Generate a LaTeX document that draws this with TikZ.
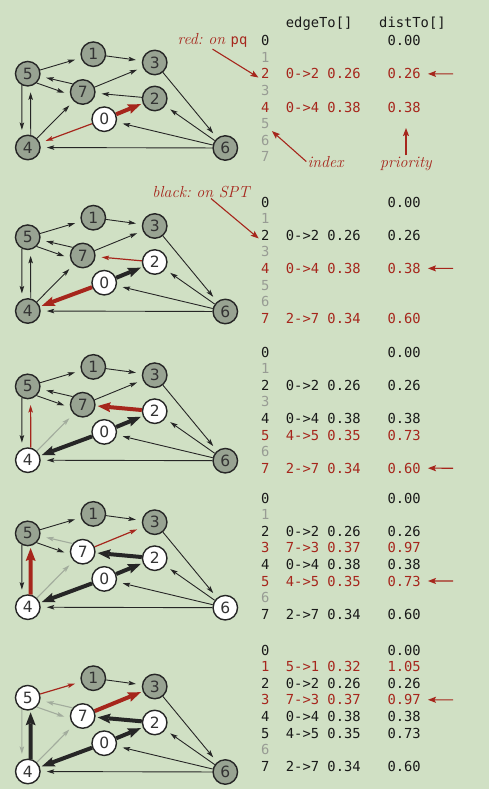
\documentclass[tikz,border=0pt]{standalone}
\usepackage{fontspec}
\setsansfont{DejaVu Sans}
\setmonofont{DejaVu Sans Mono}
\usetikzlibrary{arrows.meta}
\definecolor{paper}{RGB}{208,224,196}
\definecolor{vgray}{RGB}{152,163,146}
\definecolor{sptred}{RGB}{166,38,28}
\definecolor{fadegray}{RGB}{162,172,157}
\definecolor{idxgray}{RGB}{152,156,148}
\tikzset{
  vtx/.style={circle,draw=black!85,line width=1.4pt,minimum size=24.5pt,inner sep=0pt,
    text=black!80,font=\sffamily\fontsize{15.5}{16}\selectfont},
  gv/.style={vtx,fill=vgray},
  wv/.style={vtx,fill=white},
  ed/.style={line width=.9pt,black!85,shorten >=6pt,-{Stealth[length=7.5pt,width=4.5pt,inset=1.5pt]}},
  edg/.style={ed,fadegray,line width=1.1pt},
  edr/.style={ed,sptred,line width=1.2pt},
  edk/.style={line width=4pt,black!85,shorten >=2pt,-{Stealth[length=13pt,width=10pt,inset=2pt,line width=0pt]}},
  edkr/.style={edk,sptred},
  cell/.style={anchor=base west,inner sep=0pt,font=\ttfamily\fontsize{13.8}{14}\selectfont},
  tk/.style={text=black!90},
  tr/.style={text=sptred},
  tg/.style={text=idxgray},
  note/.style={anchor=base,inner sep=1pt,text=sptred,font=\itshape\fontsize{16}{16}\selectfont\frenchspacing},
  ann/.style={sptred,line width=1.1pt,-{Stealth[length=8pt,width=6pt,inset=1.5pt]}}
}
\begin{document}
\begin{tikzpicture}[x=1pt,y=-1pt]
\useasboundingbox (0,0) rectangle (489,789);
\fill[paper] (0,0) rectangle (489,789);
% first step: 0 relaxed
\begin{scope}
  \foreach \n/\x/\y/\s in {0/104.2/119.2/wv,1/93.3/54.2/gv,2/154.7/98.5/gv,3/154.7/62.5/gv,
      4/27.8/147.5/gv,5/27.7/73.7/gv,6/225.3/148/gv,7/82.7/92/gv}
    \node[\s] (a\n) at (\x,\y) {\n};
  \foreach \t/\h/\s in {5/1/ed,1/3/ed,7.141/5.348/ed,5.314/7.192/ed,7/3/ed,2/7/ed,0/2/edkr,
      0/4/edr,5.243/4.117/ed,4.77/5.283/ed,4/7/ed,3/6/ed,6/2/ed,6/0/ed,6/4/ed}
    \draw[\s] (a\t) -- (a\h);
\end{scope}
\begin{scope}[shift={(0,163.5)}]
  \foreach \n/\x/\y/\s in {0/104.2/119.2/wv,1/93.3/54.2/gv,2/154.7/98.5/wv,3/154.7/62.5/gv,
      4/27.8/147.5/gv,5/27.7/73.7/gv,6/225.3/148/gv,7/82.7/92/gv}
    \node[\s] (b\n) at (\x,\y) {\n};
  \foreach \t/\h/\s in {5/1/ed,1/3/ed,7.141/5.348/ed,5.314/7.192/ed,7/3/ed,2/7/edr,0/2/edk,
      0/4/edkr,5.243/4.117/ed,4.77/5.283/ed,4/7/ed,3/6/ed,6/2/ed,6/0/ed,6/4/ed}
    \draw[\s] (b\t) -- (b\h);
\end{scope}
\begin{scope}[shift={(0,312.7)}]
  \foreach \n/\x/\y/\s in {0/104.2/119.2/wv,1/93.3/54.2/gv,2/154.7/98.5/wv,3/154.7/62.5/gv,
      4/27.8/147.5/wv,5/27.7/73.7/gv,6/225.3/148/gv,7/82.7/92/gv}
    \node[\s] (c\n) at (\x,\y) {\n};
  \foreach \t/\h/\s in {5/1/ed,1/3/ed,7.141/5.348/ed,5.314/7.192/ed,7/3/ed,2/7/edkr,0/2/edk,
      0/4/edk,5.243/4.117/ed,4.77/5.283/edr,4/7/edg,3/6/ed,6/2/ed,6/0/ed,6/4/ed}
    \draw[\s] (c\t) -- (c\h);
\end{scope}
\begin{scope}[shift={(0,459.7)}]
  \foreach \n/\x/\y/\s in {0/104.2/119.2/wv,1/93.3/54.2/gv,2/154.7/98.5/wv,3/154.7/62.5/gv,
      4/27.8/147.5/wv,5/27.7/73.7/gv,6/225.3/148/wv,7/82.7/92/wv}
    \node[\s] (d\n) at (\x,\y) {\n};
  \foreach \t/\h/\s in {5/1/ed,1/3/ed,7.141/5.348/edg,5.314/7.192/ed,7/3/edr,2/7/edk,0/2/edk,
      0/4/edk,5.243/4.117/ed,4.77/5.283/edkr,4/7/edg,3/6/ed,6/2/ed,6/0/ed,6/4/ed}
    \draw[\s] (d\t) -- (d\h);
\end{scope}
\begin{scope}[shift={(0,624)}]
  \foreach \n/\x/\y/\s in {0/104.2/119.2/wv,1/93.3/54.2/gv,2/154.7/98.5/wv,3/154.7/62.5/gv,
      4/27.8/147.5/wv,5/27.7/73.7/wv,6/225.3/148/gv,7/82.7/92/wv}
    \node[\s] (e\n) at (\x,\y) {\n};
  \foreach \t/\h/\s in {5/1/edr,1/3/ed,7.141/5.348/edg,5.314/7.192/edg,7/3/edkr,2/7/edk,0/2/edk,
      0/4/edk,5.243/4.117/edg,4.77/5.283/edk,4/7/edg,3/6/ed,6/2/ed,6/0/ed,6/4/ed}
    \draw[\s] (e\t) -- (e\h);
\end{scope}
% tables
\node[cell,tk] (ahe) at (285.7,28) {edgeTo[]};
\node[cell,tk] (ahd) at (379,28) {distTo[]};
\foreach \i/\e/\d/\c in {0//0.00/tk,1///tg,2/0->2 0.26/0.26/tr,3///tg,4/0->4 0.38/0.38/tr,
    5///tg,6///tg,7///tg} {
  \node[cell,\c] (ai\i) at (261,45.7+16.6*\i) {\i};
  \node[cell,\c] (ae\i) at (285.7,45.7+16.6*\i) {\e};
  \node[cell,\c] (ad\i) at (387.3,45.7+16.6*\i) {\d};
}
\foreach \i/\e/\d/\c in {0//0.00/tk,1///tg,2/0->2 0.26/0.26/tk,3///tg,4/0->4 0.38/0.38/tr,
    5///tg,6///tg,7/2->7 0.34/0.60/tr} {
  \node[cell,\c] (bi\i) at (261,207+16.6*\i) {\i};
  \node[cell,\c] (be\i) at (285.7,207+16.6*\i) {\e};
  \node[cell,\c] (bd\i) at (387.3,207+16.6*\i) {\d};
}
\foreach \i/\e/\d/\c in {0//0.00/tk,1///tg,2/0->2 0.26/0.26/tk,3///tg,4/0->4 0.38/0.38/tk,
    5/4->5 0.35/0.73/tr,6///tg,7/2->7 0.34/0.60/tr} {
  \node[cell,\c] (ci\i) at (261,357+16.6*\i) {\i};
  \node[cell,\c] (ce\i) at (285.7,357+16.6*\i) {\e};
  \node[cell,\c] (cd\i) at (387.3,357+16.6*\i) {\d};
}
\foreach \i/\e/\d/\c in {0//0.00/tk,1///tg,2/0->2 0.26/0.26/tk,3/7->3 0.37/0.97/tr,
    4/0->4 0.38/0.38/tk,5/4->5 0.35/0.73/tr,6///tg,7/2->7 0.34/0.60/tk} {
  \node[cell,\c] (di\i) at (261,503+16.6*\i) {\i};
  \node[cell,\c] (de\i) at (285.7,503+16.6*\i) {\e};
  \node[cell,\c] (dd\i) at (387.3,503+16.6*\i) {\d};
}
\foreach \i/\e/\d/\c in {0//0.00/tk,1/5->1 0.32/1.05/tr,2/0->2 0.26/0.26/tk,3/7->3 0.37/0.97/tr,
    4/0->4 0.38/0.38/tk,5/4->5 0.35/0.73/tk,6///tg,7/2->7 0.34/0.60/tk} {
  \node[cell,\c] (ei\i) at (261,655+16.6*\i) {\i};
  \node[cell,\c] (ee\i) at (285.7,655+16.6*\i) {\e};
  \node[cell,\c] (ed\i) at (387.3,655+16.6*\i) {\d};
}
% notes and pointers
\node[note] (onpq) at (212.5,45) {red: on {\upshape\ttfamily\fontsize{13.8}{14}\selectfont pq}};
\draw[ann,shorten >=3pt] (onpq.south) -- (ai2.south west);
\node[note] (onspt) at (201,197) {black: on SPT};
\draw[ann,shorten >=3pt] ([xshift=10pt]onspt.south) -- (bi2.south west);
\node[note] (lidx) at (325.5,167) {index};
\draw[ann,shorten >=3pt] (lidx.west) -- (ai5.south east);
\node[note] (lprio) at (406,167) {priority};
\coordinate (ptip) at (406,128);
\draw[ann] (lprio.north) -- (ptip);
\coordinate (ap) at (453,73.9);
\draw[ann,shorten >=7pt] (ap) -- (ad2);
\coordinate (bp) at (453,268.4);
\draw[ann,shorten >=7pt] (bp) -- (bd4);
\coordinate (cp) at (453,468.2);
\draw[ann,shorten >=7pt] (cp) -- (cd7);
\coordinate (dp) at (453,581);
\draw[ann,shorten >=7pt] (dp) -- (dd5);
\coordinate (ep) at (453,699.8);
\draw[ann,shorten >=7pt] (ep) -- (ed3);
\end{tikzpicture}
\end{document}
